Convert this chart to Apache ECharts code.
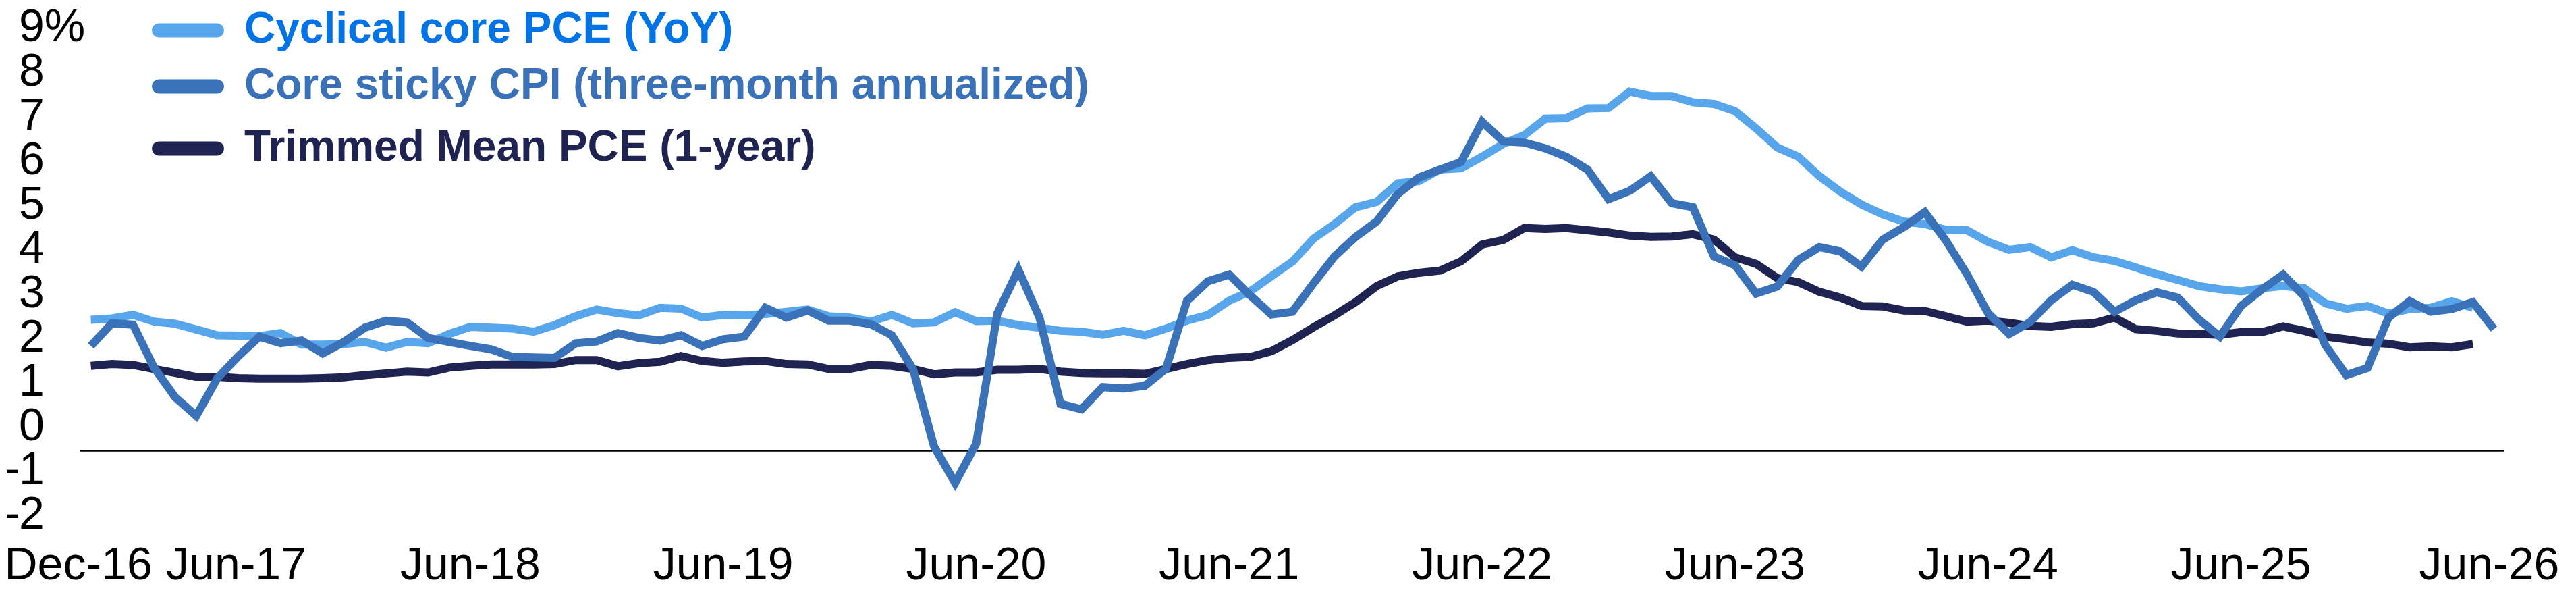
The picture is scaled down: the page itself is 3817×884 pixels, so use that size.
<!DOCTYPE html>
<html>
<head>
<meta charset="utf-8">
<script src="https://cdn.jsdelivr.net/npm/echarts@6/dist/echarts.min.js"></script>
<style>
  html, body { margin: 0; padding: 0; background: #fff; }
  #chart { width: 3817px; height: 884px; }
</style>
</head>
<body>
<div id="chart"></div>
<script>
// monthly categories, Dec-16 .. Jun-26
var monthNames = ['Jan','Feb','Mar','Apr','May','Jun','Jul','Aug','Sep','Oct','Nov','Dec'];
var months = [];
for (var k = 0; k < 115; k++) {
  months.push(monthNames[(11 + k) % 12] + '-' + (16 + Math.floor((11 + k) / 12)));
}

var xTickLabels = ['Jun-17','Jun-18','Jun-19','Jun-20','Jun-21','Jun-22','Jun-23','Jun-24','Jun-25','Jun-26'];
var xFirstLabel = 'Dec-16';
var yTicks = [-2,-1,0,1,2,3,4,5,6,7,8,9];
var yTickLabels = ['-2','-1','0','1','2','3','4','5','6','7','8','9%'];

var seriesNames = ['Cyclical core PCE (YoY)', 'Core sticky CPI (three-month annualized)', 'Trimmed Mean PCE (1-year)'];

var cyclicalCorePce = [
  2.95,2.98,3.06,2.91,2.86,2.73,2.60,2.59,2.58,2.65,2.39,2.39,
  2.40,2.45,2.32,2.45,2.42,2.63,2.79,2.77,2.75,2.68,2.83,3.03,
  3.18,3.10,3.05,3.22,3.20,3.00,3.06,3.05,3.08,3.13,3.18,3.03,
  3.00,2.91,3.06,2.87,2.89,3.12,2.92,2.93,2.83,2.77,2.70,2.68,
  2.61,2.70,2.60,2.75,2.93,3.06,3.38,3.59,3.93,4.26,4.78,5.11,
  5.49,5.61,6.03,6.08,6.34,6.37,6.63,6.92,7.12,7.49,7.50,7.72,
  7.73,8.10,8.00,8.00,7.86,7.82,7.66,7.27,6.84,6.63,6.19,5.84,
  5.55,5.33,5.17,5.11,4.98,4.97,4.71,4.53,4.59,4.36,4.52,4.36,
  4.28,4.13,3.98,3.85,3.71,3.64,3.59,3.66,3.71,3.66,3.32,3.20,
  3.26,3.09,3.19,3.22,3.37,3.22
];

var coreStickyCpi = [
  2.36,2.87,2.84,1.87,1.20,0.78,1.63,2.13,2.57,2.42,2.48,2.19,
  2.45,2.77,2.93,2.89,2.54,2.45,2.36,2.28,2.11,2.10,2.09,2.42,
  2.46,2.65,2.54,2.48,2.60,2.36,2.51,2.57,3.22,3.00,3.16,2.93,
  2.93,2.85,2.60,1.84,0.09,-0.73,0.15,3.09,4.08,3.00,1.05,0.93,
  1.43,1.40,1.46,1.84,3.38,3.82,3.97,3.50,3.07,3.13,3.77,4.38,
  4.82,5.17,5.79,6.16,6.34,6.51,7.42,6.98,6.95,6.82,6.63,6.34,
  5.67,5.86,6.19,5.58,5.49,4.38,4.18,3.54,3.70,4.30,4.59,4.49,
  4.15,4.76,5.04,5.38,4.74,3.98,3.10,2.63,2.90,3.39,3.74,3.58,
  3.13,3.39,3.57,3.45,2.96,2.57,3.26,3.64,3.97,3.48,2.38,1.70,
  1.86,3.00,3.37,3.13,3.19,3.35,2.74
];

var trimmedMeanPce = [
  1.91,1.95,1.93,1.84,1.75,1.66,1.66,1.63,1.62,1.62,1.62,1.63,
  1.65,1.70,1.74,1.78,1.76,1.87,1.91,1.94,1.94,1.94,1.95,2.04,
  2.04,1.90,1.97,2.00,2.13,2.02,1.98,2.01,2.02,1.95,1.94,1.84,
  1.84,1.93,1.91,1.84,1.72,1.76,1.76,1.82,1.82,1.84,1.78,1.75,
  1.74,1.74,1.73,1.84,1.95,2.04,2.09,2.11,2.24,2.49,2.78,3.05,
  3.35,3.71,3.93,4.01,4.06,4.27,4.65,4.75,5.02,5.00,5.02,4.97,
  4.92,4.85,4.82,4.83,4.88,4.76,4.36,4.21,3.89,3.80,3.58,3.45,
  3.26,3.25,3.16,3.15,3.03,2.91,2.93,2.88,2.81,2.79,2.85,2.87,
  3.00,2.74,2.70,2.64,2.63,2.61,2.67,2.67,2.80,2.70,2.57,2.51,
  2.44,2.41,2.33,2.35,2.33,2.40
];

var colors = ['#57a5eb', '#3a72b9', '#1f2352'];
var legendTextColors = ['#0073e6', '#3a72b9', '#1f2352'];

var axisFont = "'Liberation Sans', Arial, sans-serif";
var pill = 'path://M10.5,0H96.5A10.5,10.5,0,0,1,96.5,21H10.5A10.5,10.5,0,0,1,10.5,0Z';

function makeLegend(i, top) {
  return {
    show: true,
    orient: 'vertical',
    left: 225,
    top: top,
    padding: 0,
    icon: pill,
    itemWidth: 107,
    itemHeight: 21,
    selectedMode: false,
    data: [{ name: seriesNames[i], textStyle: { color: legendTextColors[i] } }],
    textStyle: {
      fontFamily: axisFont,
      fontWeight: 'bold',
      fontSize: 64,
      lineHeight: 64,
      padding: [0, 0, 0, 25]
    }
  };
}

function lineSeries(i, data, z) {
  return {
    name: seriesNames[i],
    type: 'line',
    data: data,
    z: z,
    symbol: 'none',
    showSymbol: false,
    color: colors[i],
    lineStyle: { color: colors[i], width: 12, join: 'miter', miterLimit: 20, cap: 'butt' },
    emphasis: { disabled: true }
  };
}

var xBase = { fontFamily: axisFont, fontSize: 68, lineHeight: 68, color: '#000' };
var yBase = { fontFamily: axisFont, fontSize: 68, lineHeight: 68, color: '#000' };

// two x axes share the bottom edge: the first carries the Jun labels,
// the second only the first month, so the two never hide each other
function monthAxis(showIndex, rich, formatter) {
  return {
    type: 'category',
    position: 'bottom',
    data: months,
    boundaryGap: true,
    axisLine: { show: false },
    axisTick: { show: false },
    splitLine: { show: false },
    axisLabel: Object.assign({
      interval: showIndex,
      margin: 7,
      rich: rich,
      formatter: formatter
    }, xBase)
  };
}

// same trick for y: inner ticks on one axis, the two end ticks on another
function valueAxis(showValue) {
  return {
    type: 'value',
    position: 'left',
    min: -2,
    max: 9,
    interval: 1,
    axisLine: { show: false },
    axisTick: { show: false },
    splitLine: { show: false },
    axisLabel: Object.assign({
      showMinLabel: true,
      showMaxLabel: true,
      align: 'left',
      verticalAlign: 'bottom',
      margin: 112,
      formatter: function (value) {
        if (!showValue(value)) return '';
        var t = yTickLabels[yTicks.indexOf(value)];
        if (t.charAt(0) === '-') return '{m|-}{d|' + t.slice(1) + '}';
        return '{m| }{d|' + t + '}';
      },
      rich: {
        m: Object.assign({ width: 21 }, yBase),
        d: Object.assign({}, yBase)
      }
    }, yBase)
  };
}

var chart = echarts.init(document.getElementById('chart'));

var option = {
  animation: false,
  backgroundColor: '#fff',
  legend: [makeLegend(0, 13), makeLegend(1, 96), makeLegend(2, 188)],
  grid: { left: 119, right: 106, top: 76.6, bottom: 85.8, containLabel: false },
  xAxis: [
    monthAxis(
      function (index) { return xTickLabels.indexOf(months[index]) >= 0; },
      {
        r: Object.assign({ padding: [0, 0, 0, 56] }, xBase),
        e: Object.assign({ padding: [0, 14, 0, 0] }, xBase)
      },
      function (value) {
        if (value === 'Jun-17') return '{r|' + value + '}';
        if (value === 'Jun-26') return '{e|' + value + '}';
        return value;
      }
    ),
    monthAxis(
      function (index) { return months[index] === xFirstLabel; },
      { l: Object.assign({ padding: [0, 37, 0, 0] }, xBase) },
      function (value) { return '{l|' + value + '}'; }
    )
  ],
  yAxis: [
    valueAxis(function (v) { return v !== yTicks[0] && v !== yTicks[yTicks.length - 1]; }),
    valueAxis(function (v) { return v === yTicks[0] || v === yTicks[yTicks.length - 1]; })
  ],
  series: [
    Object.assign(lineSeries(0, cyclicalCorePce, 2), {
      markLine: {
        silent: true,
        z: 1,
        symbol: ['none', 'none'],
        label: { show: false },
        lineStyle: { color: '#000', width: 2.5, type: 'solid' },
        emphasis: { disabled: true },
        data: [{ yAxis: 0 }]
      }
    }),
    lineSeries(2, trimmedMeanPce, 3),
    lineSeries(1, coreStickyCpi, 4)
  ]
};

chart.setOption(option);
</script>
</body>
</html>
